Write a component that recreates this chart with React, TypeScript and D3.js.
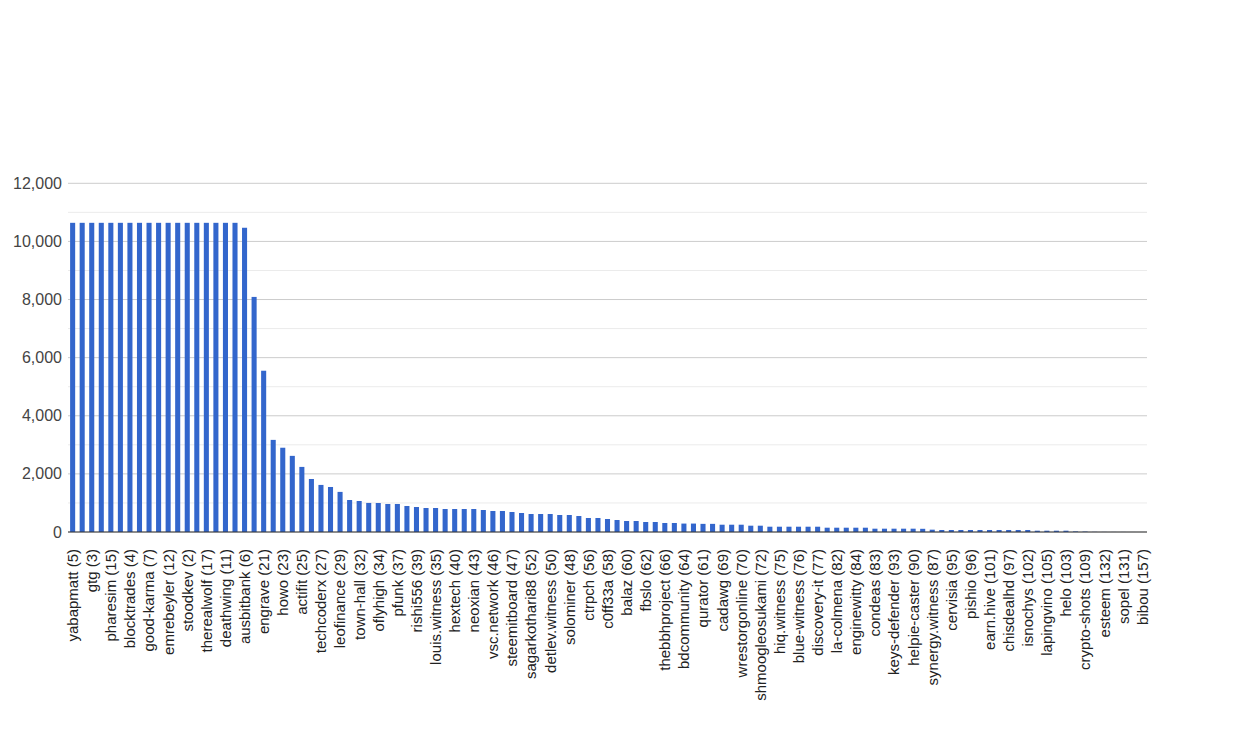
import React from "react";
import * as d3 from "d3";

const shownLabels: string[] = [
  "yabapmatt (5)", "gtg (3)", "pharesim (15)", "blocktrades (4)", "good-karma (7)",
  "emrebeyler (12)", "stoodkev (2)", "therealwolf (17)", "deathwing (11)", "ausbitbank (6)",
  "engrave (21)", "howo (23)", "actifit (25)", "techcoderx (27)", "leofinance (29)",
  "town-hall (32)", "oflyhigh (34)", "pfunk (37)", "rishi556 (39)", "louis.witness (35)",
  "hextech (40)", "neoxian (43)", "vsc.network (46)", "steemitboard (47)", "sagarkothari88 (52)",
  "detlev.witness (50)", "solominer (48)", "ctrpch (56)", "c0ff33a (58)", "balaz (60)",
  "fbslo (62)", "thebbhproject (66)", "bdcommunity (64)", "qurator (61)", "cadawg (69)",
  "wrestorgonline (70)", "shmoogleosukami (72)", "hiq.witness (75)", "blue-witness (76)", "discovery-it (77)",
  "la-colmena (82)", "enginewitty (84)", "condeas (83)", "keys-defender (93)", "helpie-caster (90)",
  "synergy.witness (87)", "cervisia (95)", "pishio (96)", "earn.hive (101)", "chisdealhd (97)",
  "isnochys (102)", "lapingvino (105)", "helo (103)", "crypto-shots (109)", "esteem (132)",
  "sopel (131)", "bibou (157)",
];

// One value per bar (113 bars; every other bar is labelled)
const votes: number[] = [
  10640, 10640, 10640, 10640, 10640, 10640, 10640, 10640, 10640, 10640,
  10640, 10640, 10640, 10640, 10640, 10640, 10640, 10640, 10470, 8090,
  5550, 3170, 2900, 2620, 2240, 1824, 1620, 1549, 1380, 1101,
  1067, 1000, 998, 964, 964, 895, 860, 826, 826, 791,
  791, 791, 791, 757, 723, 723, 688, 654, 619, 619,
  619, 585, 585, 550, 482, 482, 447, 413, 378, 378,
  344, 344, 310, 310, 290, 290, 280, 280, 251, 251,
  251, 217, 217, 182, 182, 182, 182, 182, 182, 148,
  148, 148, 148, 148, 114, 114, 114, 114, 114, 110,
  80, 69, 69, 69, 69, 69, 69, 69, 69, 69,
  69, 45, 45, 45, 45, 20, 15, 5, 3, 2,
  2, 1, 1,
];

const yTicks: number[] = [0, 2000, 4000, 6000, 8000, 10000, 12000];
const yMinorTicks: number[] = [1000, 3000, 5000, 7000, 9000, 11000];

const labels: string[] = votes.map((_, i) => (i % 2 === 0 ? shownLabels[i / 2] ?? "" : ""));

export default function App() {
  const W = 1250, H = 750;
  const left = 68, right = 1147, top = 183.3, bottom = 532;
  const x = d3
    .scaleBand<number>()
    .domain(votes.map((_, i) => i))
    .range([left, right])
    .paddingInner(0.47)
    .paddingOuter(0.22);
  const y = d3.scaleLinear().domain([0, 12000]).range([bottom, top]);
  const fmt = d3.format(",");
  const font = "Arial, 'Liberation Sans', sans-serif";

  return (
    <svg
      width={W}
      height={H}
      style={{ position: "absolute", left: 0, top: 0, background: "#fff" }}
      fontFamily={font}
    >
      <rect x={0} y={0} width={W} height={H} fill="#fff" />
      {yMinorTicks.map((t) => (
        <line key={"m" + t} x1={left} x2={right} y1={y(t)} y2={y(t)} stroke="#ebebeb" strokeWidth={1} />
      ))}
      {yTicks.map((t) => (
        <line key={"g" + t} x1={left} x2={right} y1={y(t)} y2={y(t)} stroke="#cccccc" strokeWidth={1} />
      ))}
      {yTicks.map((t) => (
        <text key={"t" + t} x={62} y={y(t)} dy="0.35em" textAnchor="end" fontSize={16} fill="#444">
          {fmt(t)}
        </text>
      ))}
      {votes.map((v, i) => (
        <rect
          key={"b" + i}
          x={x(i)!}
          y={y(v)}
          width={x.bandwidth()}
          height={bottom - y(v)}
          fill="#3366cc"
        />
      ))}
      <line x1={left} x2={right} y1={bottom} y2={bottom} stroke="#333" strokeWidth={1.2} />
      {labels.map((l, i) =>
        l ? (
          <text
            key={"l" + i}
            transform={`translate(${x(i)! + x.bandwidth() / 2},549) rotate(-90)`}
            dy="0.36em"
            textAnchor="end"
            fontSize={15}
            fill="#222"
          >
            {l}
          </text>
        ) : null
      )}
    </svg>
  );
}
